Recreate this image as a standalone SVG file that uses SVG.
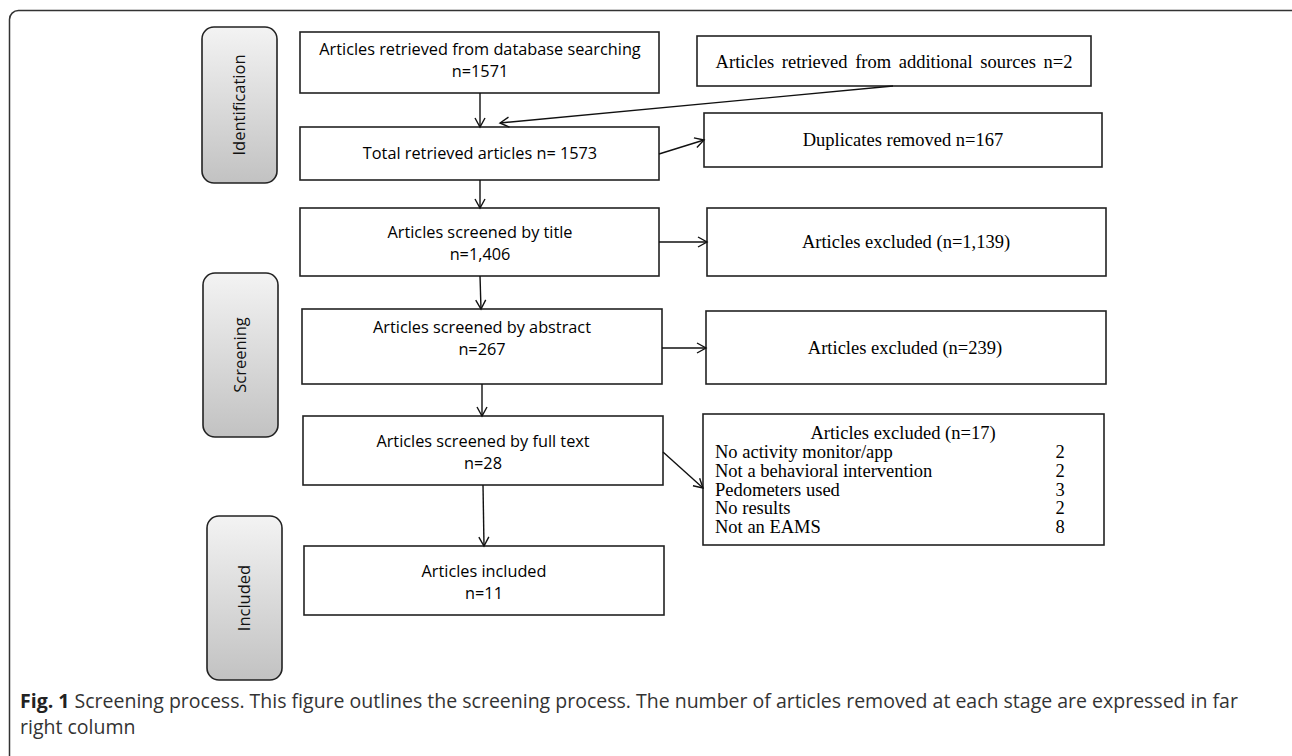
<svg xmlns="http://www.w3.org/2000/svg" width="1292" height="756" viewBox="0 0 1292 756">
<style>
.frame{fill:none;stroke:#333;stroke-width:1.5}
.box{fill:#fff;stroke:#222;stroke-width:1.6}
.pill{fill:url(#pg);stroke:#222;stroke-width:1.6}
.sans{font-family:"Open Sans","Liberation Sans",sans-serif;font-size:16.3px;fill:#000;text-anchor:middle}
.side{font-family:"Open Sans","Liberation Sans",sans-serif;font-size:16.5px;fill:#111;text-anchor:middle}
.serif{font-family:"Liberation Serif","Times New Roman",serif;font-size:18.5px;fill:#000}
.mid{text-anchor:middle}
.conn line{stroke:#111;stroke-width:1.4;marker-end:url(#arr)}
.cap{font-family:"Open Sans","Liberation Sans",sans-serif;font-size:19.5px;fill:#333}
</style>
<defs>
<linearGradient id="pg" x1="0" y1="0" x2="0" y2="1">
<stop offset="0" stop-color="#f3f3f3"/>
<stop offset="1" stop-color="#c2c2c2"/>
</linearGradient>
<marker id="arr" markerUnits="userSpaceOnUse" markerWidth="14" markerHeight="14" refX="10" refY="6" orient="auto">
<path d="M1,1 L10,6 L1,11" fill="none" stroke="#111" stroke-width="1.4"/>
</marker>
</defs>
<rect width="1292" height="756" fill="#fff"/>
<rect class="frame" x="9.5" y="10.5" width="1290" height="800" rx="9"/>

<g id="stage-identification">
<rect class="pill" x="202" y="27" width="75" height="156" rx="12"/>
<text class="side" transform="translate(245,105) rotate(-90)">Identification</text>
</g>
<g id="stage-screening">
<rect class="pill" x="203" y="273" width="75" height="164" rx="12"/>
<text class="side" transform="translate(246,355) rotate(-90)">Screening</text>
</g>
<g id="stage-included">
<rect class="pill" x="207" y="516" width="75" height="164" rx="12"/>
<text class="side" transform="translate(250,598) rotate(-90)">Included</text>
</g>

<g id="n-database">
<rect class="box" x="300" y="32" width="359" height="61"/>
<text class="sans" x="480" y="55">Articles retrieved from database searching</text>
<text class="sans" x="480" y="77">n=1571</text>
</g>
<g id="n-additional">
<rect class="box" x="697" y="36" width="394" height="50"/>
<text class="serif mid" x="894" y="68" word-spacing="3">Articles retrieved from additional sources n=2</text>
</g>
<g id="n-total">
<rect class="box" x="300" y="127" width="359" height="53"/>
<text class="sans" x="480" y="159">Total retrieved articles n= 1573</text>
</g>
<g id="n-duplicates">
<rect class="box" x="704" y="113" width="398" height="54"/>
<text class="serif mid" x="903" y="146">Duplicates removed n=167</text>
</g>
<g id="n-title">
<rect class="box" x="300" y="208" width="359" height="68"/>
<text class="sans" x="480" y="238">Articles screened by title</text>
<text class="sans" x="480" y="260">n=1,406</text>
</g>
<g id="n-excl-title">
<rect class="box" x="707" y="208" width="399" height="68"/>
<text class="serif mid" x="906" y="248">Articles excluded (n=1,139)</text>
</g>
<g id="n-abstract">
<rect class="box" x="302" y="309" width="360" height="75"/>
<text class="sans" x="482" y="333">Articles screened by abstract</text>
<text class="sans" x="482" y="355">n=267</text>
</g>
<g id="n-excl-abstract">
<rect class="box" x="706" y="311" width="400" height="73"/>
<text class="serif mid" x="905" y="354">Articles excluded (n=239)</text>
</g>
<g id="n-fulltext">
<rect class="box" x="303" y="416" width="360" height="69"/>
<text class="sans" x="483" y="447">Articles screened by full text</text>
<text class="sans" x="483" y="469">n=28</text>
</g>
<g id="n-excl-fulltext">
<rect class="box" x="703" y="414" width="401" height="131"/>
<text class="serif mid" x="903" y="439">Articles excluded (n=17)</text>
<text class="serif" x="715" y="458">No activity monitor/app</text>
<text class="serif" x="715" y="477">Not a behavioral intervention</text>
<text class="serif" x="715" y="496">Pedometers used</text>
<text class="serif" x="715" y="514">No results</text>
<text class="serif" x="715" y="533">Not an EAMS</text>
<text class="serif mid" x="1060" y="458">2</text>
<text class="serif mid" x="1060" y="477">2</text>
<text class="serif mid" x="1060" y="496">3</text>
<text class="serif mid" x="1060" y="514">2</text>
<text class="serif mid" x="1060" y="533">8</text>
</g>
<g id="n-included">
<rect class="box" x="304" y="546" width="360" height="69"/>
<text class="sans" x="484" y="577">Articles included</text>
<text class="sans" x="484" y="599">n=11</text>
</g>

<g id="connectors" class="conn">
<line x1="480" y1="93" x2="480" y2="127"/>
<line x1="893" y1="86" x2="500" y2="123"/>
<line x1="659" y1="154" x2="704" y2="140"/>
<line x1="480" y1="180" x2="480" y2="208"/>
<line x1="659" y1="242" x2="707" y2="242"/>
<line x1="480" y1="276" x2="481" y2="309"/>
<line x1="662" y1="348" x2="706" y2="348"/>
<line x1="482" y1="384" x2="482" y2="416"/>
<line x1="663" y1="452" x2="703" y2="488"/>
<line x1="483" y1="485" x2="484" y2="546"/>
</g>

<g id="caption">
<text class="cap" x="20" y="708"><tspan font-weight="bold" fill="#222">Fig. 1</tspan> Screening process. This figure outlines the screening process. The number of articles removed at each stage are expressed in far</text>
<text class="cap" x="20" y="734">right column</text>
</g>
</svg>
